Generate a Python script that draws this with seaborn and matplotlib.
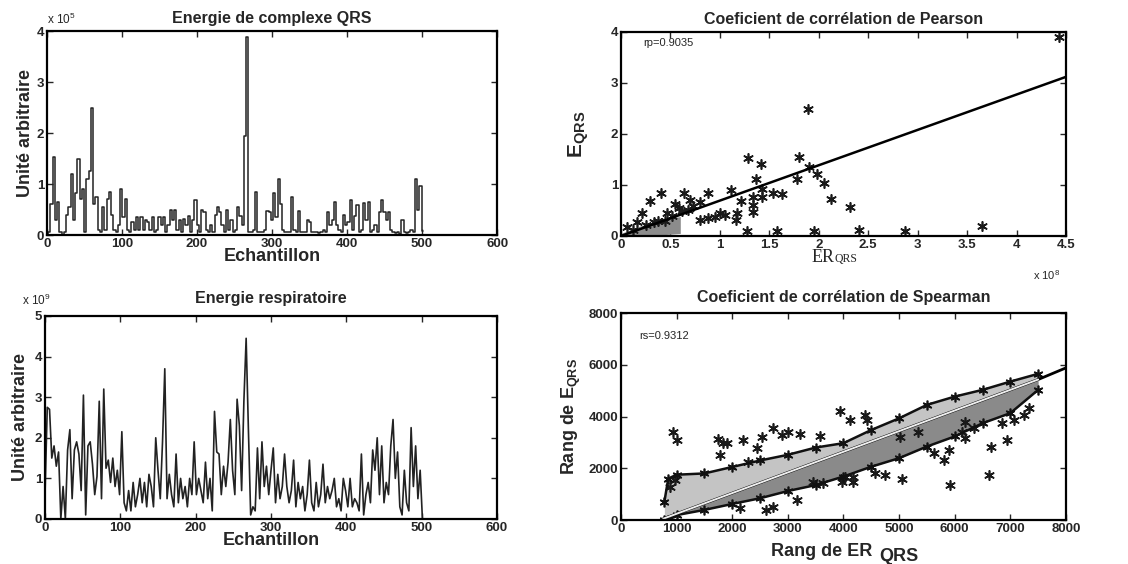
import numpy as np
import pandas as pd
import matplotlib
matplotlib.use("Agg")
import matplotlib.pyplot as plt
import seaborn as sns

# Energie de complexe QRS (unités de 1e4), un échantillon sur 3
qrs_energie = [0, 0.5, 6, 15.3, 3, 6.5, 0.5, 0, 0.5, 4, 5.5, 12, 3, 8.3, 15, 7, 9, 0.5, 11, 12.5,
               25, 6, 7.5, 1, 0.5, 5.5, 1, 7, 8.5, 4, 1, 0.5, 2, 9, 3.5, 7, 1, 0.5, 2.5, 1,
               3.5, 1, 3.5, 1, 3, 2.5, 1, 3.5, 0.5, 1, 3.5, 2, 3.5, 0.5, 2, 5, 3, 5, 1, 3,
               0.5, 3.2, 2, 3.8, 0.5, 3, 6.8, 2, 0.5, 5, 4.5, 1, 0.5, 2, 0.5, 4, 5.5, 4.5, 2, 0.5,
               5, 1, 3, 0.5, 1, 5.5, 3.8, 2, 19.5, 38.8, 0.5, 0.5, 1, 8.5, 0.5, 0.5, 0.5, 1, 4.8, 4.5,
               3, 8.2, 3.5, 11, 6, 1, 0.5, 0.5, 0.5, 7.5, 1, 0.5, 4.8, 0.5, 0.5, 0.5, 3, 2.5, 0.5, 0.5,
               0.5, 0.3, 0.5, 1, 0.5, 4.5, 2, 3, 6.5, 2, 1, 0.5, 4, 2, 2.5, 6.8, 1, 3.8, 5.8, 0.5,
               1, 6.2, 3, 6.5, 0.5, 1, 2, 0.5, 4.5, 6.8, 4.5, 3, 4.5, 1, 0.5, 0.3, 0.5, 0.2, 3, 0.5,
               0.3, 0.5, 1, 0.5, 11, 5, 9.7, 0.8]

# Energie respiratoire (unités de 1e9), un échantillon sur 3
resp_energie = [0.6, 2.75, 2.7, 1.5, 1.8, 1.3, 1.65, 0.0, 0.8, 0.0, 1.7, 2.2, 0.5, 1.7, 1.9, 1.6, 0.7, 3.05, 0.1, 1.8,
                1.9, 1.35, 0.6, 1.05, 2.9, 0.5, 3.2, 1.25, 1.45, 0.9, 1.5, 0.8, 1.2, 0.6, 2.15, 0.4, 0.2, 0.7, 0.2, 0.9,
                0.3, 0.6, 1.0, 0.4, 0.9, 0.3, 1.1, 0.8, 0.3, 2.0, 1.2, 0.5, 1.9, 3.7, 0.5, 1.1, 0.6, 0.3, 1.6, 0.4,
                1.0, 0.5, 0.8, 0.3, 1.0, 0.6, 1.9, 0.6, 1.0, 0.7, 0.4, 1.4, 0.5, 1.0, 0.2, 2.65, 1.65, 1.6, 0.6, 1.3,
                0.8, 1.4, 2.45, 1.2, 0.6, 2.95, 2.3, 0.7, 2.9, 4.45, 2.2, 0.1, 0.3, 0.2, 1.75, 0.5, 1.9, 0.8, 1.3, 0.6,
                1.2, 1.75, 0.4, 1.1, 0.5, 0.8, 1.6, 0.8, 0.4, 0.7, 1.45, 0.3, 0.9, 0.5, 0.8, 0.2, 0.6, 1.45, 0.4, 0.2,
                0.9, 0.3, 0.6, 1.35, 0.4, 0.8, 0.5, 0.7, 1.0, 0.3, 0.5, 0.2, 1.0, 0.7, 0.3, 1.0, 0.3, 0.5, 0.4, 0.2,
                1.6, 0.1, 0.6, 0.9, 0.4, 1.7, 1.2, 2.0, 0.6, 1.8, 0.4, 0.9, 0.6, 1.8, 2.45, 1.0, 1.65, 0.3, 0.1, 1.2,
                0.4, 0.2, 2.25, 0.8, 1.8, 0.5, 1.2, 0.0]

# Pearson : ER (x 1e8) contre E QRS (x 1e5)
pearson_er = [4.43, 1.89, 1.28, 1.42, 1.80, 1.90, 1.37, 1.78, 1.98, 2.05, 2.12, 2.32, 2.41, 2.87, 3.65,
              1.95, 1.58, 0.40, 0.64, 0.88, 1.11, 1.21, 0.29, 0.21, 0.47, 1.43, 1.54, 1.63, 1.34, 1.34,
              1.34, 1.17, 1.16, 1.00, 0.88, 0.80, 0.70, 0.73, 0.80, 0.59, 0.33, 0.16, 0.06, 1.27, 1.43,
              0.25, 0.37, 0.52, 0.68, 0.95, 1.05, 0.12, 0.55, 0.62, 0.45]
pearson_eqrs = [3.90, 2.49, 1.52, 1.42, 1.55, 1.36, 1.11, 1.11, 1.22, 1.04, 0.73, 0.57, 0.12, 0.09, 0.20,
                0.10, 0.09, 0.85, 0.85, 0.85, 0.90, 0.68, 0.68, 0.45, 0.45, 0.77, 0.85, 0.82, 0.77, 0.60,
                0.47, 0.45, 0.31, 0.46, 0.35, 0.31, 0.71, 0.59, 0.67, 0.54, 0.28, 0.28, 0.18, 0.09, 0.92,
                0.22, 0.30, 0.40, 0.50, 0.38, 0.42, 0.12, 0.62, 0.48, 0.30]
pearson_fit_x = [0, 4.5]
pearson_fit_y = [0, 3.12]
pearson_nuage_x = [0.0, 0.2, 0.4, 0.6]
pearson_nuage_bas = [0.0, 0.0, 0.02, 0.05]
pearson_nuage_haut = [0.05, 0.2, 0.32, 0.38]

# Spearman : rangs
spearman_bande_x = [780, 850, 1000, 1500, 2000, 2500, 3000, 3500, 4000, 4500, 5000, 5500, 6000, 6500, 7000, 7500]
spearman_bande_bas = [0, 0, 190, 390, 620, 840, 1120, 1350, 1680, 2060, 2390, 2840, 3230, 3740, 4130, 5030]
spearman_bande_milieu = [66, 122, 242, 640, 1040, 1440, 1840, 2240, 2640, 3040, 3430, 3830, 4230, 4630, 5030, 5430]
spearman_bande_haut = [700, 1600, 1750, 1800, 2050, 2300, 2520, 2800, 2970, 3480, 3930, 4450, 4770, 5030, 5350, 5650]
spearman_fit_x = [760, 7500, 8000]
spearman_fit_y = [50, 5430, 5880]
spearman_rang_er = [941, 1001, 1781, 1841, 1901, 1751, 2201, 2291, 2441, 2531, 2741, 2891, 3011, 3221, 3580,
                    3940, 4120, 4420, 4390, 3970, 4180, 4180, 4030, 4570, 4750, 5050, 5919, 5800, 6609, 6657,
                    6939, 6849, 7059, 7240, 7330, 6129, 6189, 5889, 5619, 5349, 5019, 3160, 2741, 2609, 2141,
                    971, 881, 3460, 3640, 6189, 6339]
spearman_rang_e = [3419, 3097, 2516, 2968, 2994, 3123, 3097, 2258, 2774, 3226, 3548, 3290, 3419, 3329, 3252,
                   4194, 3871, 3871, 4065, 1484, 1484, 1677, 1677, 1806, 1742, 1574, 1355, 2323, 1742, 2813,
                   3097, 3742, 3871, 4065, 4323, 3419, 3161, 2710, 2581, 3419, 3226, 774, 516, 387, 452,
                   1548, 1290, 1484, 1419, 3806, 3548]

sns.set_style("ticks")
plt.rcParams["font.family"] = ["Liberation Sans", "DejaVu Sans"]
plt.rcParams["mathtext.fontset"] = "custom"
plt.rcParams["mathtext.rm"] = "Liberation Sans"
plt.rcParams["mathtext.bf"] = "Liberation Sans:bold"
plt.rcParams["axes.linewidth"] = 1.6

fig = plt.figure(figsize=(11.28, 5.64), dpi=100)
ax1 = fig.add_axes([0.0417, 0.5833, 0.399, 0.3617])
ax2 = fig.add_axes([0.5505, 0.5816, 0.3945, 0.3617])
ax3 = fig.add_axes([0.0399, 0.0798, 0.4007, 0.36])
ax4 = fig.add_axes([0.5505, 0.078, 0.3945, 0.367])

etoile = (6, 2, 0)

def matlab_axes(ax):
    ax.tick_params(direction="in", top=True, right=True, length=4, width=1, labelsize=9.5, pad=2)
    for lab in ax.get_xticklabels() + ax.get_yticklabels():
        lab.set_fontweight("bold")
    for s in ax.spines.values():
        s.set_color("black")

# --- Energie QRS
n_qrs = np.arange(len(qrs_energie)) * 3
sns.lineplot(x=n_qrs, y=np.array(qrs_energie) / 10, ax=ax1, color="#222222", lw=1.1, sort=False,
             errorbar=None, drawstyle="steps-mid")
ax1.set_xlim(0, 600)
ax1.set_ylim(0, 4)
ax1.set_xticks(range(0, 601, 100))
ax1.set_yticks(range(0, 5))
ax1.set_title("Energie de complexe QRS", fontsize=11.5, fontweight="bold", pad=6)
ax1.set_ylabel("Unité arbitraire", fontsize=13, fontweight="bold", labelpad=2)
ax1.set_xlabel("Echantillon", fontsize=13, fontweight="bold", labelpad=-1)
ax1.text(0.0, 1.02, "x 10$^5$", transform=ax1.transAxes, fontsize=8.5, ha="left", va="bottom")
matlab_axes(ax1)

# --- Energie respiratoire
n_resp = np.arange(len(resp_energie)) * 3
sns.lineplot(x=n_resp, y=resp_energie, ax=ax3, color="#222222", lw=1.2, sort=False, errorbar=None)
ax3.set_xlim(0, 600)
ax3.set_ylim(0, 5)
ax3.set_xticks(range(0, 601, 100))
ax3.set_yticks(range(0, 6))
ax3.set_title("Energie respiratoire", fontsize=11.5, fontweight="bold", pad=9)
ax3.set_ylabel("Unité arbitraire", fontsize=13, fontweight="bold", labelpad=4)
ax3.set_xlabel("Echantillon", fontsize=13, fontweight="bold", labelpad=-1)
ax3.text(-0.05, 1.04, "x 10$^9$", transform=ax3.transAxes, fontsize=8.5, ha="left", va="bottom")
matlab_axes(ax3)

# --- Pearson
ax2.fill_between(pearson_nuage_x, pearson_nuage_bas, pearson_nuage_haut, color="#8c8c8c", lw=0)
sns.lineplot(x=pearson_fit_x, y=pearson_fit_y, ax=ax2, color="black", lw=1.8, errorbar=None)
sns.scatterplot(x=pearson_er, y=pearson_eqrs, ax=ax2, marker=etoile, s=45, color="#1a1a1a",
                linewidth=1.2, edgecolor="#1a1a1a")
ax2.set_xlim(0, 4.5)
ax2.set_ylim(0, 4)
ax2.set_xticks(np.arange(0, 4.51, 0.5))
ax2.set_xticklabels(["0", "0.5", "1", "1.5", "2", "2.5", "3", "3.5", "4", "4.5"])
ax2.set_yticks(range(0, 5))
ax2.set_title("Coeficient de corrélation de Pearson", fontsize=11.5, fontweight="bold", pad=6)
ax2.set_ylabel(r"$\mathbf{E}_{\mathbf{QRS}}$", fontsize=15, labelpad=14)
ax2.set_xlabel("")
ax2.text(0.48, -0.065, "ER", transform=ax2.transAxes, fontsize=13, family="Liberation Serif",
         ha="right", va="top")
ax2.text(0.48, -0.085, "QRS", transform=ax2.transAxes, fontsize=8.5, family="Liberation Serif",
         ha="left", va="top")
ax2.text(0.05, 0.945, "rp=0.9035", transform=ax2.transAxes, fontsize=8, va="center")
ax2.text(0.925, -0.16, "x 10$^8$", transform=ax2.transAxes, fontsize=8, ha="left", va="top")
matlab_axes(ax2)

# --- Spearman
ax4.fill_between(spearman_bande_x, spearman_bande_milieu, spearman_bande_haut, color="#c4c4c4", lw=0)
ax4.fill_between(spearman_bande_x, spearman_bande_bas, spearman_bande_milieu, color="#8a8a8a", lw=0)
for bord in (spearman_bande_haut, spearman_bande_bas):
    sns.lineplot(x=spearman_bande_x, y=bord, ax=ax4, color="#111111", lw=1.8,
                 marker=etoile, markersize=7, markeredgewidth=1.2, markeredgecolor="#111111",
                 errorbar=None)
sns.lineplot(x=spearman_fit_x, y=spearman_fit_y, ax=ax4, color="black", lw=2, errorbar=None)
sns.lineplot(x=spearman_fit_x[:2], y=spearman_fit_y[:2], ax=ax4, color="#eeeeee", lw=1.4, errorbar=None)
sns.scatterplot(x=spearman_rang_er, y=spearman_rang_e, ax=ax4, marker=etoile, s=45, color="#1a1a1a",
                linewidth=1.2, edgecolor="#1a1a1a")
ax4.set_xlim(0, 8000)
ax4.set_ylim(0, 8000)
ax4.set_xticks(range(0, 8001, 1000))
ax4.set_yticks(range(0, 8001, 2000))
ax4.set_title("Coeficient de corrélation de Spearman", fontsize=11.5, fontweight="bold", pad=8)
ax4.set_ylabel(r"Rang de E$_{\mathbf{QRS}}$", fontsize=13, fontweight="bold", labelpad=4)
ax4.set_xlabel("")
ax4.text(0.565, -0.11, "Rang de ER", transform=ax4.transAxes, fontsize=13, fontweight="bold",
         ha="right", va="top")
ax4.text(0.58, -0.135, "QRS", transform=ax4.transAxes, fontsize=13, fontweight="bold",
         ha="left", va="top")
ax4.text(0.04, 0.89, "rs=0.9312", transform=ax4.transAxes, fontsize=8, va="center")
matlab_axes(ax4)

fig.savefig("out.png", dpi=100)
